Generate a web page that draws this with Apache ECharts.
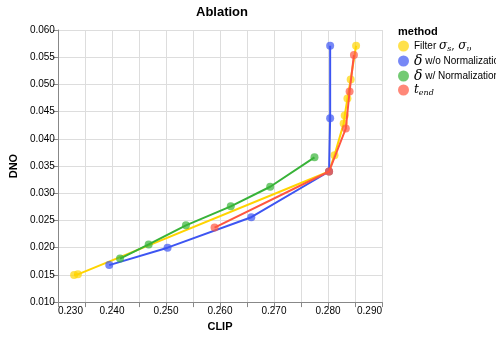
<!DOCTYPE html>
<html><head><meta charset="utf-8">
<script src="https://cdn.jsdelivr.net/npm/echarts@6/dist/echarts.min.js"></script>
<style>html,body{margin:0;padding:0;background:#fff}#c{width:496px;height:337px}</style>
</head><body><div id="c"></div>
<script>
// Filter sigma_s, sigma_v
var filterClip = [0.2330, 0.2337, 0.2802, 0.2812, 0.2829, 0.2831, 0.2836, 0.2842, 0.2852];
var filterDno  = [0.0150, 0.0151, 0.0340, 0.0370, 0.0428, 0.0443, 0.0474, 0.0509, 0.0571];
// delta w/o Normalization
var woClip = [0.2395, 0.2503, 0.2658, 0.2802, 0.2804, 0.2804];
var woDno  = [0.0168, 0.0200, 0.0256, 0.0340, 0.0438, 0.0571];
// delta w/ Normalization
var wClip = [0.2415, 0.2468, 0.2537, 0.2620, 0.2693, 0.2775];
var wDno  = [0.0180, 0.0206, 0.0241, 0.0276, 0.0312, 0.0366];
// t_end
var tClip = [0.2590, 0.2802, 0.2833, 0.2840, 0.2848];
var tDno  = [0.0237, 0.0340, 0.0419, 0.0487, 0.0554];

var seriesNames = ['filter', 'wo', 'w', 'tend'];
var colors = ['#FFD400', '#3D55F2', '#38B338', '#FF5540'];

function zip(a, b) { return a.map(function (v, i) { return [v, b[i]]; }); }
var datasets = [zip(filterClip, filterDno), zip(woClip, woDno), zip(wClip, wDno), zip(tClip, tDno)];

var legendLabels = {
  filter: '{n|Filter }{m|σ}{sub|s}{t|, }{m|σ}{sub|υ}',
  wo: '{d|δ}{n| w/o Normalization}',
  w: '{d|δ}{n| w/ Normalization}',
  tend: '{m|t}{sub|end}'
};

var chart = echarts.init(document.getElementById('c'), null, {renderer: 'canvas'});
var font = 'Liberation Sans, Arial, sans-serif';
var serif = 'DejaVu Serif, Liberation Serif, serif';

chart.setOption({
  animation: false,
  color: colors,
  title: [
    {text: 'Ablation', left: 217, top: 1, textAlign: 'center',
     textStyle: {fontSize: 13, fontWeight: 'bold', color: '#000', fontFamily: font}},
    {text: 'method', left: 393, top: 21,
     textStyle: {fontSize: 11, fontWeight: 'bold', color: '#000', fontFamily: font}}
  ],
  legend: {
    orient: 'vertical', left: 398, top: 40, padding: 0,
    icon: 'circle', itemWidth: 11, itemHeight: 11, itemGap: 1,
    itemStyle: {opacity: 0.7},
    data: seriesNames,
    formatter: function (n) { return legendLabels[n]; },
    textStyle: {
      fontSize: 10, color: '#000', fontFamily: font,
      rich: {
        n: {fontFamily: font, fontSize: 10, color: '#000', lineHeight: 14},
        m: {fontFamily: serif, fontStyle: 'italic', fontSize: 12, color: '#000', lineHeight: 14},
        d: {fontFamily: serif, fontStyle: 'italic', fontSize: 14, color: '#000', lineHeight: 14},
        sub: {fontFamily: serif, fontStyle: 'italic', fontSize: 8, color: '#000', lineHeight: 14, verticalAlign: 'bottom'},
        t: {fontFamily: serif, fontSize: 11, color: '#000', lineHeight: 14}
      }
    }
  },
  grid: {left: 53, right: 114, top: 30, bottom: 33, containLabel: false},
  xAxis: {
    type: 'value', min: 0.23, max: 0.29, interval: 0.005,
    name: 'CLIP', nameLocation: 'middle', nameGap: 17,
    nameTextStyle: {fontSize: 11, fontWeight: 'bold', color: '#000', fontFamily: font},
    axisLine: {show: true, lineStyle: {color: '#888', width: 1}},
    axisTick: {show: true, length: 5, lineStyle: {color: '#888'}},
    axisLabel: {
      fontSize: 10, color: '#000', fontFamily: font, margin: 4,
      alignMinLabel: 'left', alignMaxLabel: 'right', showMinLabel: true, showMaxLabel: true,
      formatter: function (v) {
        return Math.round(v * 1000) % 10 === 0 ? v.toFixed(3) : '';
      }
    },
    splitLine: {show: true, lineStyle: {color: '#ddd', width: 1}}
  },
  yAxis: {
    type: 'value', min: 0.01, max: 0.06, interval: 0.005,
    name: 'DNO', nameLocation: 'middle', nameGap: 37,
    nameTextStyle: {fontSize: 11, fontWeight: 'bold', color: '#000', fontFamily: font},
    axisLine: {show: true, lineStyle: {color: '#888', width: 1}},
    axisTick: {show: true, length: 5, lineStyle: {color: '#888'}},
    axisLabel: {fontSize: 10, color: '#000', fontFamily: font, margin: 3,
      formatter: function (v) { return v.toFixed(3); }},
    splitLine: {show: true, lineStyle: {color: '#ddd', width: 1}}
  },
  series: seriesNames.map(function (n, i) {
    return {
      name: n, type: 'line', data: datasets[i],
      symbol: 'circle', symbolSize: 8, showSymbol: true,
      lineStyle: {width: 2, color: colors[i]},
      itemStyle: {color: colors[i], opacity: 0.7},
      emphasis: {disabled: true}, z: 2 + i
    };
  })
});
</script></body></html>
